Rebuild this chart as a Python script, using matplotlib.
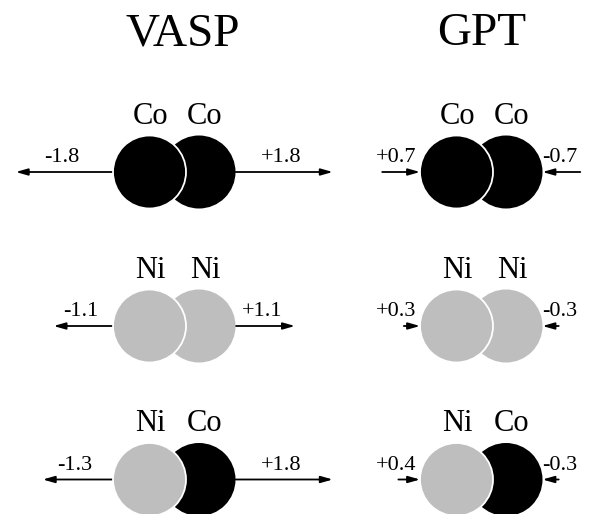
import matplotlib
matplotlib.use("Agg")
import matplotlib.pyplot as plt
from matplotlib.patches import Circle

# ---- data ----
methods = ["VASP", "GPT"]
left_atoms = ["Co", "Ni", "Ni"]
right_atoms = ["Co", "Ni", "Co"]
vasp_left = [-1.8, -1.1, -1.3]
vasp_right = [1.8, 1.1, 1.8]
gpt_left = [0.7, 0.3, 0.4]
gpt_right = [-0.7, -0.3, -0.3]
forces = {"VASP": (vasp_left, vasp_right), "GPT": (gpt_left, gpt_right)}

# ---- style / layout ----
W, H = 594, 514
colors = {"Co": "#000000", "Ni": "#bebebe"}
col_left_cx = {"VASP": 149.5, "GPT": 456.5}
title_x = {"VASP": 183, "GPT": 482}
title_y = 45
row_cy = [172, 326, 479.5]
R = 36.5
SEP = 49.5
SCALE = 54.0  # px per unit force
serif = ["Liberation Serif", "DejaVu Serif"]

fig = plt.figure(figsize=(W / 100, H / 100), dpi=100)
ax = fig.add_axes([0, 0, 1, 1])
ax.set_xlim(0, W)
ax.set_ylim(H, 0)
ax.set_aspect("equal")
ax.axis("off")

for m in methods:
    ax.text(title_x[m], title_y, m, fontsize=34, family=serif,
            ha="center", va="baseline")
    fl, fr = forces[m]
    for i in range(len(row_cy)):
        cy = row_cy[i]
        cxl = col_left_cx[m]
        cxr = cxl + SEP
        # circles: right one behind, left one in front with white outline
        ax.add_patch(Circle((cxr, cy), R, facecolor=colors[right_atoms[i]],
                            edgecolor="none", zorder=2))
        ax.add_patch(Circle((cxl, cy), R, facecolor=colors[left_atoms[i]],
                            edgecolor="white", lw=1.3, zorder=3))
        # atom labels
        lab_y = cy - R - 12
        ax.text(cxl + 1, lab_y, left_atoms[i], fontsize=22, family=serif,
                ha="center", va="baseline")
        ax.text(cxr + 6, lab_y, right_atoms[i], fontsize=22, family=serif,
                ha="center", va="baseline")
        # force arrows
        edge_l = cxl - R
        edge_r = cxr + R
        for side, v, edge in (("L", fl[i], edge_l), ("R", fr[i], edge_r)):
            L = abs(v) * SCALE
            outward = (v < 0) if side == "L" else (v > 0)
            sgn = -1 if side == "L" else 1
            far = edge + sgn * L
            if outward:
                tail, tip = edge, far
            else:
                tail, tip = far, edge
            ax.annotate("", xy=(tip, cy), xytext=(tail, cy),
                        arrowprops=dict(arrowstyle="-|>,head_length=0.7,head_width=0.2",
                                        lw=1.3, color="black", mutation_scale=10,
                                        shrinkA=0, shrinkB=0),
                        zorder=1)
            txt = "%+.1f" % v
            ty = cy - 10
            if m == "VASP":
                mid = (edge + far) / 2 - 3
                ax.text(mid, ty, txt, fontsize=16, family=serif,
                        ha="center", va="baseline")
            else:
                if side == "L":
                    ax.text(edge - 4, ty, txt, fontsize=16, family=serif,
                            ha="right", va="baseline")
                else:
                    ax.text(edge, ty, txt, fontsize=16, family=serif,
                            ha="left", va="baseline")

fig.savefig("out.png", dpi=100)
